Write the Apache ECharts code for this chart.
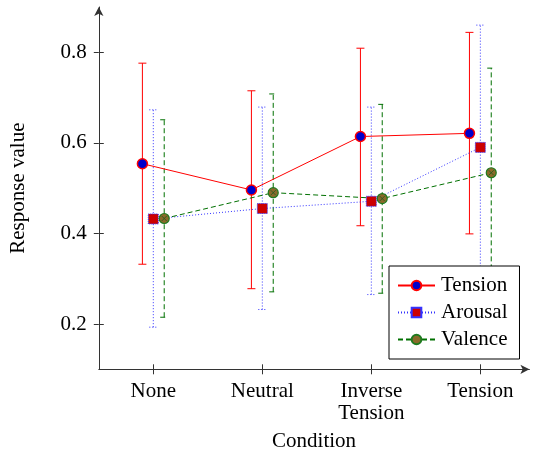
<!DOCTYPE html>
<html>
<head>
<meta charset="utf-8">
<script src="https://cdn.jsdelivr.net/npm/echarts@6/dist/echarts.min.js"></script>
<style>
html, body { margin: 0; padding: 0; background: #fff; }
#chart { width: 533px; height: 449px; }
</style>
</head>
<body>
<div id="chart"></div>
<script>
var categories = ["None", "Neutral", "Inverse\nTension", "Tension"];
var yTicks = [0.2, 0.4, 0.6, 0.8];

var tensionMean = [0.554, 0.496, 0.614, 0.621];
var tensionLow = [0.332, 0.278, 0.417, 0.399];
var tensionHigh = [0.776, 0.715, 0.809, 0.844];

var arousalMean = [0.432, 0.455, 0.471, 0.590];
var arousalLow = [0.193, 0.232, 0.265, 0.320];
var arousalHigh = [0.673, 0.679, 0.679, 0.860];

var valenceMean = [0.433, 0.490, 0.477, 0.534];
var valenceLow = [0.215, 0.271, 0.268, 0.303];
var valenceHigh = [0.651, 0.708, 0.685, 0.765];

var FONT = "Liberation Serif";

function points(vals, offset) {
  return vals.map(function (v, i) { return [i + offset, v]; });
}

// vertical error bar with caps, drawn through the axes
function errorBars(name, color, dash, offset, lows, highs) {
  return {
    name: name + " err",
    type: "custom",
    z: 1,
    silent: true,
    encode: { x: 0, y: [1, 2] },
    data: lows.map(function (l, i) { return [i + offset, l, highs[i]]; }),
    renderItem: function (params, api) {
      var x = api.value(0);
      var lo = api.coord([x, api.value(1)]);
      var hi = api.coord([x, api.value(2)]);
      var w = 4;
      var style = { stroke: color, lineWidth: 1, lineDash: dash };
      return {
        type: "group",
        children: [
          { type: "line", shape: { x1: lo[0], y1: lo[1], x2: hi[0], y2: hi[1] }, style: style },
          { type: "line", shape: { x1: hi[0] - w, y1: hi[1], x2: hi[0] + w, y2: hi[1] }, style: style },
          { type: "line", shape: { x1: lo[0] - w, y1: lo[1], x2: lo[0] + w, y2: lo[1] }, style: style }
        ]
      };
    }
  };
}

var chart = echarts.init(document.getElementById("chart"), null, { renderer: "canvas" });

var axisLineStyle = { color: "#333", width: 1 };

chart.setOption({
  animation: false,
  textStyle: { fontFamily: FONT, color: "#000" },
  grid: { left: 98.8, right: 3.6, top: 7, bottom: 79.7, outerBoundsMode: "none", containLabel: false },
  legend: {
    orient: "vertical",
    left: 389,
    top: 266,
    padding: [9, 12, 9, 8],
    itemGap: 6,
    itemWidth: 37,
    itemHeight: 12,
    borderColor: "#000",
    borderWidth: 1,
    backgroundColor: "#fff",
    data: ["Tension", "Arousal", "Valence"],
    textStyle: { fontFamily: FONT, fontSize: 21, lineHeight: 21, color: "#000", padding: [0, 0, 0, 1] }
  },
  xAxis: [
    {
      type: "value",
      min: -0.5,
      max: 3.45,
      name: "Condition",
      nameLocation: "middle",
      nameGap: 62,
      nameTextStyle: { fontFamily: FONT, fontSize: 21, color: "#000" },
      axisLine: { onZero: false, lineStyle: axisLineStyle, symbol: ["none", "arrow"], symbolSize: [7, 9] },
      axisTick: { show: true, length: 5, customValues: [0, 1, 2, 3], lineStyle: axisLineStyle },
      axisLabel: {
        customValues: [0, 1, 2, 3],
        margin: 11,
        fontFamily: FONT,
        fontSize: 21,
        lineHeight: 22,
        color: "#000",
        formatter: function (v) { return categories[Math.round(v)]; }
      },
      splitLine: { show: false }
    },
    {
      type: "value",
      min: -0.5,
      max: 3.45,
      position: "bottom",
      axisLine: { show: false, onZero: false },
      axisTick: { show: true, inside: true, length: 5, customValues: [0, 1, 2, 3], lineStyle: axisLineStyle },
      axisLabel: { show: false },
      splitLine: { show: false }
    }
  ],
  yAxis: [
    {
      type: "value",
      min: 0.1,
      max: 0.9,
      name: "Response value",
      nameLocation: "middle",
      nameRotate: 90,
      nameGap: 70,
      nameTextStyle: { fontFamily: FONT, fontSize: 21, color: "#000" },
      axisLine: { show: true, onZero: false, lineStyle: axisLineStyle, symbol: ["none", "arrow"], symbolSize: [7, 9] },
      axisTick: { show: true, length: 5, customValues: yTicks, lineStyle: axisLineStyle },
      axisLabel: {
        customValues: yTicks,
        margin: 12,
        fontFamily: FONT,
        fontSize: 21,
        color: "#000",
        formatter: function (v) { return v.toFixed(1); }
      },
      splitLine: { show: false }
    },
    {
      type: "value",
      min: 0.1,
      max: 0.9,
      position: "left",
      axisLine: { show: false, onZero: false },
      axisTick: { show: true, inside: true, length: 5, customValues: yTicks, lineStyle: axisLineStyle },
      axisLabel: { show: false },
      splitLine: { show: false }
    }
  ],
  series: [
    errorBars("Tension", "#ff0000", null, -0.1, tensionLow, tensionHigh),
    errorBars("Arousal", "#3333ff", [1, 2], 0, arousalLow, arousalHigh),
    errorBars("Valence", "#007000", [5, 3], 0.1, valenceLow, valenceHigh),
    {
      name: "Tension",
      type: "line",
      z: 3,
      data: points(tensionMean, -0.1),
      symbol: "circle",
      symbolSize: 10,
      itemStyle: { color: "#0000cc", borderColor: "#ff0000", borderWidth: 1.5 },
      lineStyle: { color: "#ff0000", width: 1 },
      emphasis: { disabled: true }
    },
    {
      name: "Arousal",
      type: "line",
      z: 3,
      data: points(arousalMean, 0),
      symbol: "rect",
      symbolSize: 10,
      itemStyle: { color: "#cc0000", borderColor: "#3333ff", borderWidth: 1, borderType: "dotted" },
      lineStyle: { color: "#3333ff", width: 1, type: [1, 2] },
      emphasis: { disabled: true }
    },
    {
      name: "Valence",
      type: "line",
      z: 3,
      data: points(valenceMean, 0.1),
      symbol: "circle",
      symbolSize: 10,
      itemStyle: { color: "#8a6a2a", borderColor: "#1f7a1f", borderWidth: 1.2 },
      lineStyle: { color: "#007000", width: 1, type: [5, 3] },
      emphasis: { disabled: true }
    },
    {
      name: "Valence x",
      type: "scatter",
      z: 4,
      silent: true,
      data: points(valenceMean, 0.1),
      symbol: "path://M0,0L10,10M10,0L0,10",
      symbolSize: 5,
      itemStyle: { color: "none", borderColor: "#1f5a1f", borderWidth: 1 }
    }
  ]
});
</script>
</body>
</html>
